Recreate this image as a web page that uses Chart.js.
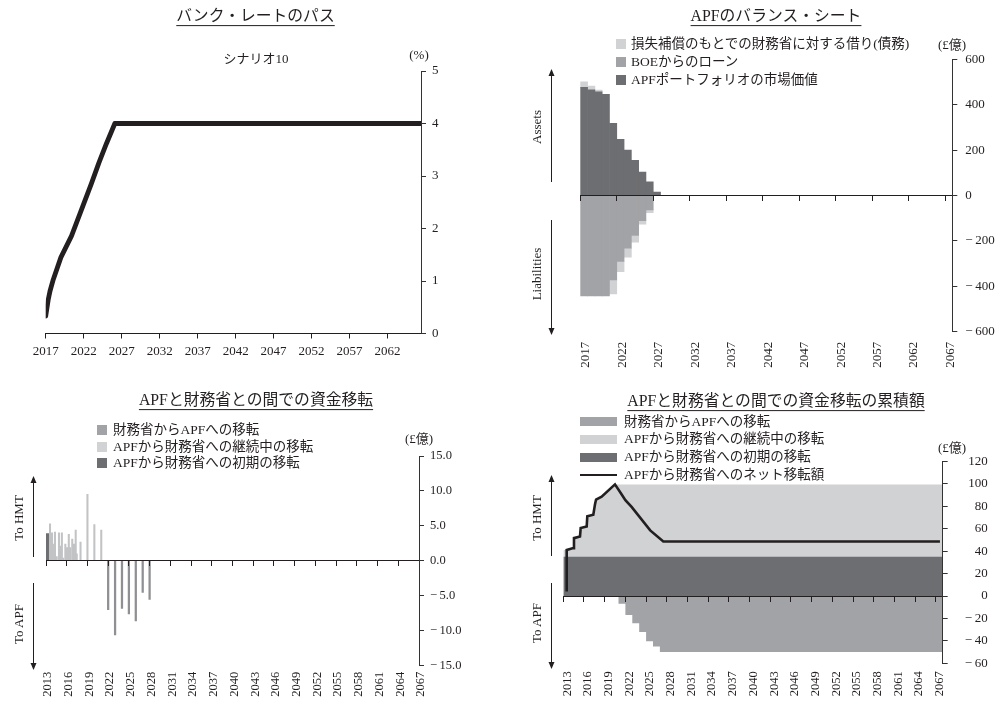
<!DOCTYPE html>
<html lang="ja">
<head>
<meta charset="utf-8">
<title>バンク・レートとAPF</title>
<script src="https://cdn.jsdelivr.net/npm/chart.js@4.4.1/dist/chart.umd.min.js"></script>
<style>
  html, body { margin: 0; padding: 0; background: #fff; }
  #page { position: relative; width: 1001px; height: 701px; overflow: hidden; background: #fff;
          font-family: 'Liberation Serif', 'Noto Sans CJK JP', serif; color: #231f20; }
  #page canvas { position: absolute; }
  .txt { position: absolute; white-space: nowrap; line-height: 1; transform: translate(-50%, -50%); }
  .title { font-size: 15.8px; text-decoration: underline; text-decoration-thickness: 1px; text-underline-offset: 4px; }
  .note { font-size: 13px; }
  .rot { font-size: 13px; transform: translate(-50%, -50%) rotate(-90deg); }
  .lg { position: absolute; white-space: nowrap; line-height: 1; font-size: 13.5px; transform: translateY(-50%); }
  .sw { position: absolute; }
  svg { position: absolute; left: 0; top: 0; }
</style>
</head>
<body>
<div id="page">
  <canvas id="rate" width="500" height="370" style="left:0;top:0"></canvas>
  <canvas id="balance" width="501" height="375" style="left:500px;top:0"></canvas>
  <canvas id="flows" width="500" height="321" style="left:0;top:380px"></canvas>
  <canvas id="cumulative" width="501" height="321" style="left:500px;top:380px"></canvas>

  <!-- バンク・レート -->
  <div class="txt title" style="left:255.5px;top:16px">バンク・レートのパス</div>
  <div class="txt note" style="left:256px;top:58px">シナリオ10</div>
  <div class="txt note" style="left:419px;top:54px">(%)</div>

  <!-- バランス・シート -->
  <div class="txt title" style="left:776px;top:16px">APFのバランス・シート</div>
  <div class="sw" style="left:616px;top:38.5px;width:10px;height:10px;background:#d1d2d4"></div>
  <div class="lg" style="left:631px;top:43.5px">損失補償のもとでの財務省に対する借り(債務)</div>
  <div class="sw" style="left:616px;top:57px;width:10px;height:10px;background:#a2a3a6"></div>
  <div class="lg" style="left:631px;top:62px">BOEからのローン</div>
  <div class="sw" style="left:616px;top:75px;width:10px;height:10px;background:#6d6e71"></div>
  <div class="lg" style="left:631px;top:80px">APFポートフォリオの市場価値</div>
  <div class="txt note" style="left:952px;top:43.5px">(£億)</div>
  <div class="txt rot" style="left:536px;top:127px">Assets</div>
  <div class="txt rot" style="left:536px;top:274px">Liabilities</div>

  <!-- 資金移転 -->
  <div class="txt title" style="left:256px;top:400px">APFと財務省との間での資金移転</div>
  <div class="sw" style="left:97px;top:425px;width:10px;height:10px;background:#a2a3a6"></div>
  <div class="lg" style="left:113px;top:430px">財務省からAPFへの移転</div>
  <div class="sw" style="left:97px;top:441.7px;width:10px;height:10px;background:#d1d2d4"></div>
  <div class="lg" style="left:113px;top:446.7px">APFから財務省への継続中の移転</div>
  <div class="sw" style="left:97px;top:458.3px;width:10px;height:10px;background:#6d6e71"></div>
  <div class="lg" style="left:113px;top:463.3px">APFから財務省への初期の移転</div>
  <div class="txt note" style="left:419px;top:437.5px">(£億)</div>
  <div class="txt rot" style="left:18px;top:518px">To HMT</div>
  <div class="txt rot" style="left:18px;top:624px">To APF</div>

  <!-- 資金移転の累積額 -->
  <div class="txt title" style="left:776px;top:401px">APFと財務省との間での資金移転の累積額</div>
  <div class="sw" style="left:580px;top:417.2px;width:37px;height:9px;background:#a2a3a6"></div>
  <div class="lg" style="left:624px;top:421.7px">財務省からAPFへの移転</div>
  <div class="sw" style="left:580px;top:434.8px;width:37px;height:9px;background:#d1d2d4"></div>
  <div class="lg" style="left:624px;top:439.3px">APFから財務省への継続中の移転</div>
  <div class="sw" style="left:580px;top:452.8px;width:37px;height:9px;background:#6d6e71"></div>
  <div class="lg" style="left:624px;top:457.3px">APFから財務省への初期の移転</div>
  <div class="sw" style="left:580px;top:473.7px;width:37px;height:2.6px;background:#231f20"></div>
  <div class="lg" style="left:624px;top:475px">APFから財務省へのネット移転額</div>
  <div class="txt note" style="left:952px;top:446.7px">(£億)</div>
  <div class="txt rot" style="left:536px;top:518px">To HMT</div>
  <div class="txt rot" style="left:536px;top:623px">To APF</div>

  <svg width="1001" height="701">
    <g stroke="#231f20" stroke-width="1" fill="none">
      <line x1="551.5" y1="75" x2="551.5" y2="182"/>
      <line x1="551.5" y1="220" x2="551.5" y2="329"/>
      <line x1="33.5" y1="482" x2="33.5" y2="557"/>
      <line x1="33.5" y1="583" x2="33.5" y2="664"/>
      <line x1="551.5" y1="481" x2="551.5" y2="556"/>
      <line x1="551.5" y1="583" x2="551.5" y2="663"/>
    </g>
    <g fill="#231f20">
      <polygon points="551.5,69 548.5,76 554.5,76"/>
      <polygon points="551.5,335 548.5,328 554.5,328"/>
      <polygon points="33.5,476 30.5,483 36.5,483"/>
      <polygon points="33.5,670 30.5,663 36.5,663"/>
      <polygon points="551.5,475 548.5,482 554.5,482"/>
      <polygon points="551.5,669 548.5,662 554.5,662"/>
    </g>
  </svg>
</div>

<script>
// ---- バンク・レートのパス (%) ----
const rateYears  = [2017.0, 2017.34, 2017.57, 2018.0, 2019.0, 2020.4, 2021.9, 2023.0, 2024.0, 2025.0, 2026.1, 2066.4];
const rateValues = [0.33, 0.65, 0.81, 1.03, 1.45, 1.86, 2.43, 2.85, 3.25, 3.62, 4.0, 4.0];
const rateTickYears = [2017, 2022, 2027, 2032, 2037, 2042, 2047, 2052, 2057, 2062];

// ---- APFのバランス・シート (£億) ----
const bsYears = [2017, 2018, 2019, 2020, 2021, 2022, 2023, 2024, 2025, 2026, 2027];
const bsPortfolio       = [477, 466, 457, 447, 319, 248, 201, 156, 104, 61, 15];
const bsIndemnityAssets = [25, 17, 8, null, null, null, null, null, null, null, null];
const bsBoeLoan         = [-442, -442, -442, -442, -372, -290, -232, -176, -111, -63, null];
const bsIndemnityLiabs  = [null, null, null, null, -61, -45, -39, -29, -15, -12, null];
const bsTickYears = [2017, 2022, 2027, 2032, 2037, 2042, 2047, 2052, 2057, 2062, 2067];

// ---- APFと財務省との間での資金移転 (£億) ----
const initialYears  = [2013.36];
const initialValues = [3.9];
const ongoingYears  = [2013.58, 2013.87, 2014.06, 2014.3, 2014.55, 2014.88, 2015.03, 2015.3, 2015.5, 2015.8,
                       2016.04, 2016.3, 2016.5, 2016.8, 2017.06, 2017.3, 2017.45, 2018.0, 2019.0, 2020.0, 2021.0];
const ongoingValues = [5.3, 4.0, 2.4, 4.1, 0.6, 4.0, 2.1, 4.0, 0.4, 2.4,
                       1.9, 3.8, 1.9, 3.1, 2.4, 4.4, 1.0, 2.7, 9.5, 5.2, 4.4];
const toApfYears  = [2022, 2023, 2024, 2025, 2026, 2027, 2028];
const toApfValues = [-7.0, -10.6, -6.8, -7.6, -8.6, -4.5, -5.5];
const flowTickYears = [2013, 2016, 2019, 2022, 2025, 2028, 2031, 2034, 2037, 2040,
                       2043, 2046, 2049, 2052, 2055, 2058, 2061, 2064, 2067];

// ---- 資金移転の累積額 (£億) ----
const cumInitialYears  = [2013, 2068];
const cumInitialValues = [35, 35];
const cumOngoingYears  = [2013, 2013.49, 2014.45, 2014.55, 2015.42, 2015.52, 2016.39, 2016.48, 2017.35, 2017.59, 2017.75, 2018.56, 2020.49, 2068];
const cumOngoingTop    = [41, 41, 42.7, 51.6, 53, 60.6, 62, 71, 72.5, 81.5, 86, 88.5, 99.5, 99.5];
const cumToApfYears  = [2013, 2021, 2022, 2023, 2024, 2025, 2026, 2027, 2068];
const cumToApfValues = [0, -7, -17, -24.3, -32, -40.3, -45, -50, -50];
const netYears  = [2013.49, 2013.49, 2014.45, 2014.55, 2015.42, 2015.52, 2016.39, 2016.48, 2017.35, 2017.59,
                   2017.75, 2018.56, 2020.49, 2021.3, 2022.0, 2022.9, 2025.6, 2027.5, 2067.6];
const netValues = [4, 41, 42.7, 51.6, 53, 60.6, 62, 71, 72.5, 81.5,
                   86, 88.5, 99.5, 92, 85.5, 79.4, 58.5, 48.6, 48.6];
const cumTickYears = flowTickYears;

// ---- styling ----
const INK = '#231f20';
const AXIS = '#333333';
const DARK = '#6d6e71';
const MID = '#a2a3a6';
const LIGHT = '#d1d2d4';
const THIN_MID = '#8f9093';
const THIN_LIGHT = '#c2c3c5';
const FONT = "'Liberation Serif', 'Noto Sans CJK JP', serif";

Chart.defaults.font.family = FONT;
Chart.defaults.font.size = 13;
Chart.defaults.color = INK;
Chart.defaults.animation = false;
Chart.defaults.plugins.legend.display = false;
Chart.defaults.plugins.tooltip.enabled = false;
Chart.defaults.elements.point.radius = 0;

const noPad = s => { s.paddingTop = 0; s.paddingBottom = 0; s.paddingLeft = 0; s.paddingRight = 0; };
const sizeY = w => s => { s.width = w; noPad(s); };
const sizeX = h => s => { s.height = h; noPad(s); };
const fixedTicks = list => s => { s.ticks = list.map(v => ({ value: v })); };
const signed = digits => v => (v < 0 ? '\u2212\u2009' : '') + Math.abs(v).toFixed(digits);
const pts = (xs, ys) => xs.map((x, i) => ({ x, y: ys[i] }));
// annual bars sit in the middle of their year
const yearBars = (xs, ys) => xs.map((x, i) => ({ x: x + 0.5, y: ys[i] }));

function base(padding) {
  return {
    responsive: false, devicePixelRatio: 1, animation: false, events: [],
    layout: { padding, autoPadding: false }
  };
}

function rightAxis(o) {
  return {
    type: 'linear', position: 'right', min: o.min, max: o.max, stacked: !!o.stacked,
    afterFit: sizeY(o.width),
    border: { display: true, color: AXIS, width: 1, z: 1 },
    grid: { drawOnChartArea: false, drawTicks: true, tickLength: 5, color: AXIS, z: 1 },
    ticks: { stepSize: o.step, padding: o.pad, crossAlign: o.align || 'near', callback: o.fmt,
             font: { size: o.size || 13 } }
  };
}

// value axis drawn through zero with tick marks only
function zeroAxis(min, max, tickList, stacked) {
  return {
    type: 'linear', axis: 'x', position: { y: 0 }, min, max, stacked: !!stacked, offset: false,
    afterBuildTicks: fixedTicks(tickList), afterFit: sizeX(0),
    border: { display: true, color: INK, width: 1, z: 1 },
    grid: { offset: false, drawOnChartArea: false, drawTicks: true, tickLength: 5, color: INK, z: 1 },
    ticks: { display: false }
  };
}

// year labels along the bottom edge
function yearLabels(min, max, tickList, offset, padding, height, size) {
  return {
    type: 'linear', axis: 'x', position: 'bottom', min, max, offset: false,
    afterBuildTicks: fixedTicks(tickList), afterFit: sizeX(height),
    border: { display: false }, grid: { display: false, drawTicks: false, offset: false },
    ticks: { autoSkip: false, minRotation: 90, maxRotation: 90, labelOffset: offset, padding,
             font: { size }, callback: v => String(v) }
  };
}

// 1) バンク・レートのパス
new Chart(document.getElementById('rate'), {
  type: 'line',
  data: { datasets: [{
    data: pts(rateYears, rateValues), borderColor: INK, borderWidth: 4.8,
    borderCapStyle: 'round', borderJoinStyle: 'round', tension: 0, fill: false, pointRadius: 0
  }] },
  options: {
    ...base({ left: 45.7, top: 71, right: 29, bottom: 6.5 }),
    scales: {
      x: {
        type: 'linear', position: 'bottom', min: 2017, max: 2066.4,
        afterBuildTicks: fixedTicks(rateTickYears), afterFit: sizeX(30),
        border: { display: true, color: INK, width: 1 },
        grid: { drawOnChartArea: false, drawTicks: true, tickLength: 5, color: INK },
        ticks: { autoSkip: false, maxRotation: 0, padding: 5, callback: v => String(v) }
      },
      y: rightAxis({ min: 0, max: 5, step: 1, width: 50, pad: 6, fmt: v => String(v) })
    }
  }
});

// 2) APFのバランス・シート
const bsBar = (values, color) => ({
  data: yearBars(bsYears, values), backgroundColor: color, borderWidth: 0,
  barPercentage: 1, categoryPercentage: 1
});
new Chart(document.getElementById('balance'), {
  type: 'bar',
  data: { datasets: [
    bsBar(bsPortfolio, DARK),
    bsBar(bsIndemnityAssets, LIGHT),
    bsBar(bsBoeLoan, MID),
    bsBar(bsIndemnityLiabs, LIGHT)
  ] },
  options: {
    ...base({ left: 80.3, top: 59.5, right: 2.7, bottom: 3.3 }),
    scales: {
      x: zeroAxis(2017, 2068, bsTickYears, true),
      xl: yearLabels(2017, 2068, bsTickYears, 5.5, 10, 40, 13),
      y: rightAxis({ min: -600, max: 600, step: 200, width: 46, pad: 8, stacked: true, fmt: signed(0) })
    }
  }
});

// 3) APFと財務省との間での資金移転
new Chart(document.getElementById('flows'), {
  type: 'bar',
  data: { datasets: [
    { data: pts(toApfYears, toApfValues), backgroundColor: THIN_MID, borderWidth: 0, barThickness: 1.6, grouped: false },
    { data: pts(ongoingYears, ongoingValues), backgroundColor: THIN_LIGHT, borderWidth: 0, barThickness: 1.4, grouped: false },
    { data: pts(initialYears, initialValues), backgroundColor: DARK, borderWidth: 0, barThickness: 5, grouped: false }
  ] },
  options: {
    ...base({ left: 46, top: 76, right: 31, bottom: 3.3 }),
    scales: {
      x: zeroAxis(2013, 2067, flowTickYears, false),
      xl: yearLabels(2013, 2067, flowTickYears, 2, 6, 32, 12.5),
      y: rightAxis({ min: -15, max: 15, step: 5, width: 50, pad: 6, size: 12.5, fmt: signed(1) })
    }
  }
});

// 4) 資金移転の累積額
const area = (xs, ys, color, stepped) => ({
  data: pts(xs, ys), backgroundColor: color, borderColor: 'rgba(0,0,0,0)', borderWidth: 0,
  fill: 'origin', tension: 0, pointRadius: 0, stepped: stepped || false
});
new Chart(document.getElementById('cumulative'), {
  type: 'line',
  data: { datasets: [
    { data: pts(netYears, netValues), borderColor: INK, borderWidth: 2.6, fill: false, tension: 0,
      pointRadius: 0, borderJoinStyle: 'miter' },
    area(cumToApfYears, cumToApfValues, MID, 'before'),
    area(cumInitialYears, cumInitialValues, DARK),
    area(cumOngoingYears, cumOngoingTop, LIGHT)
  ] },
  options: {
    ...base({ left: 63.3, top: 81.4, right: 13.3, bottom: 2.7 }),
    scales: {
      x: zeroAxis(2013, 2068, cumTickYears, false),
      xl: yearLabels(2013, 2068, cumTickYears, 4, 8, 35, 12.5),
      y: rightAxis({ min: -60, max: 120, step: 20, width: 45, pad: 2, align: 'far', fmt: signed(0) })
    }
  }
});
</script>
</body>
</html>
